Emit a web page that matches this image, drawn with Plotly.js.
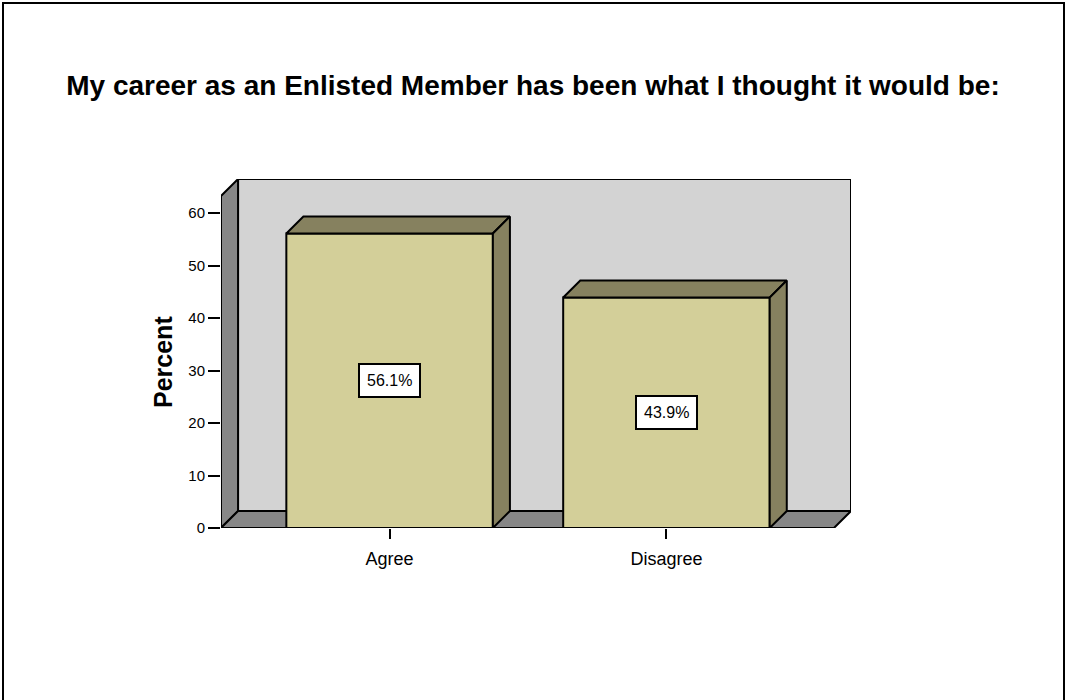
<!DOCTYPE html>
<html>
<head>
<meta charset="utf-8">
<script src="https://cdn.plot.ly/plotly-3.0.1.min.js"></script>
<style>
  html, body { margin: 0; padding: 0; background: #ffffff; }
  #chart { width: 1066px; height: 700px; }
</style>
</head>
<body>
<div id="chart"></div>
<script>
// ---- data ----
const categories = ['Agree', 'Disagree'];
const percents = [56.1, 43.9];
const yTickVals = [0, 10, 20, 30, 40, 50, 60];
const titleText = 'My career as an Enlisted Member has been what I thought it would be:';
const yTitleText = 'Percent';

// ---- 3D frame geometry (axis units) ----
const X_MIN = -0.609, X_FRONT_MAX = 1.605;
const DX = 0.0616, DY = 3.24;
const Y_FRONT_MAX = 63.24;
const BAR_W = 0.746;

const FRONT = '#D3CF99', SIDE = '#86815F';
const WALL_BACK = '#D3D3D3', WALL_SIDE = '#878787';
const FONT = 'Liberation Sans, Arial, Helvetica, sans-serif';

const xs = categories.map((c, i) => i);

const traces = [];
// front faces: bar trace
traces.push({
  type: 'bar', x: xs, y: percents, width: BAR_W,
  marker: { color: FRONT, line: { color: '#000', width: 2 } },
  hoverinfo: 'skip', showlegend: false
});
// top and side faces
xs.forEach((x, i) => {
  const v = percents[i];
  const l = x - BAR_W / 2, r = x + BAR_W / 2;
  traces.push({
    type: 'scatter', mode: 'lines', fill: 'toself', fillcolor: SIDE,
    x: [l, r, r + DX, l + DX, l], y: [v, v, v + DY, v + DY, v],
    line: { color: '#000', width: 2 }, hoverinfo: 'skip', showlegend: false
  });
  traces.push({
    type: 'scatter', mode: 'lines', fill: 'toself', fillcolor: SIDE,
    x: [r, r, r + DX, r + DX, r], y: [0, v, v + DY, DY, 0],
    line: { color: '#000', width: 2 }, hoverinfo: 'skip', showlegend: false
  });
});

const shapes = [
  // back wall
  { type: 'rect', xref: 'x', yref: 'y', layer: 'below',
    x0: X_MIN + DX, x1: X_FRONT_MAX + DX, y0: DY, y1: Y_FRONT_MAX + DY,
    fillcolor: WALL_BACK, line: { color: '#000', width: 2 } },
  // left wall
  { type: 'path', xref: 'x', yref: 'y', layer: 'below',
    path: `M ${X_MIN} 0 L ${X_MIN} ${Y_FRONT_MAX} L ${X_MIN + DX} ${Y_FRONT_MAX + DY} L ${X_MIN + DX} ${DY} Z`,
    fillcolor: WALL_SIDE, line: { color: '#000', width: 2 } },
  // floor
  { type: 'path', xref: 'x', yref: 'y', layer: 'below',
    path: `M ${X_MIN} 0 L ${X_FRONT_MAX} 0 L ${X_FRONT_MAX + DX} ${DY} L ${X_MIN + DX} ${DY} Z`,
    fillcolor: WALL_SIDE, line: { color: '#000', width: 2 } },
  // outer frame
  { type: 'rect', xref: 'paper', yref: 'paper', layer: 'above',
    x0: (3 - 221) / 630, x1: (1064 - 221) / 630, y0: (528 - 720) / 349, y1: (528 - 3) / 349,
    line: { color: '#000', width: 2 }, fillcolor: 'rgba(0,0,0,0)' }
];

const annotations = xs.map((x, i) => ({
  x: x, y: percents[i] / 2, xref: 'x', yref: 'y',
  text: percents[i].toFixed(1) + '%', showarrow: false,
  font: { family: FONT, size: 16, color: '#000' },
  bgcolor: '#ffffff', bordercolor: '#000', borderwidth: 2, borderpad: 7
}));
annotations.push({
  x: (163 - 221) / 630, xref: 'paper', y: Y_FRONT_MAX / 2, yref: 'y',
  text: '<b>' + yTitleText + '</b>', textangle: -90, showarrow: false,
  xanchor: 'center', yanchor: 'middle',
  font: { family: FONT, size: 25, color: '#000' }
});

const layout = {
  width: 1066, height: 700,
  margin: { l: 221, r: 215, t: 179, b: 172, pad: 0 },
  paper_bgcolor: '#ffffff', plot_bgcolor: 'rgba(0,0,0,0)',
  title: {
    text: '<b>' + titleText + '</b>',
    x: 0.5, xref: 'container', xanchor: 'center',
    y: 1 - 85 / 700, yref: 'container', yanchor: 'middle',
    font: { family: FONT, size: 28, color: '#000' }
  },
  xaxis: {
    range: [X_MIN, X_FRONT_MAX + DX],
    tickvals: xs, ticktext: categories,
    ticks: 'outside', ticklen: 10, tickwidth: 2, tickcolor: '#000',
    ticklabelstandoff: 4,
    showline: false, showgrid: false, zeroline: false, fixedrange: true,
    tickfont: { family: FONT, size: 18, color: '#000' }
  },
  yaxis: {
    range: [0, Y_FRONT_MAX + DY],
    tickvals: yTickVals,
    ticks: 'outside', ticklen: 12, tickwidth: 2, tickcolor: '#000',
    showline: false, showgrid: false, zeroline: false, fixedrange: true,
    tickfont: { family: FONT, size: 15, color: '#000' }
  },
  shapes: shapes,
  annotations: annotations,
  showlegend: false,
  hovermode: false
};

Plotly.newPlot('chart', traces, layout, { displayModeBar: false, staticPlot: true });
</script>
</body>
</html>
